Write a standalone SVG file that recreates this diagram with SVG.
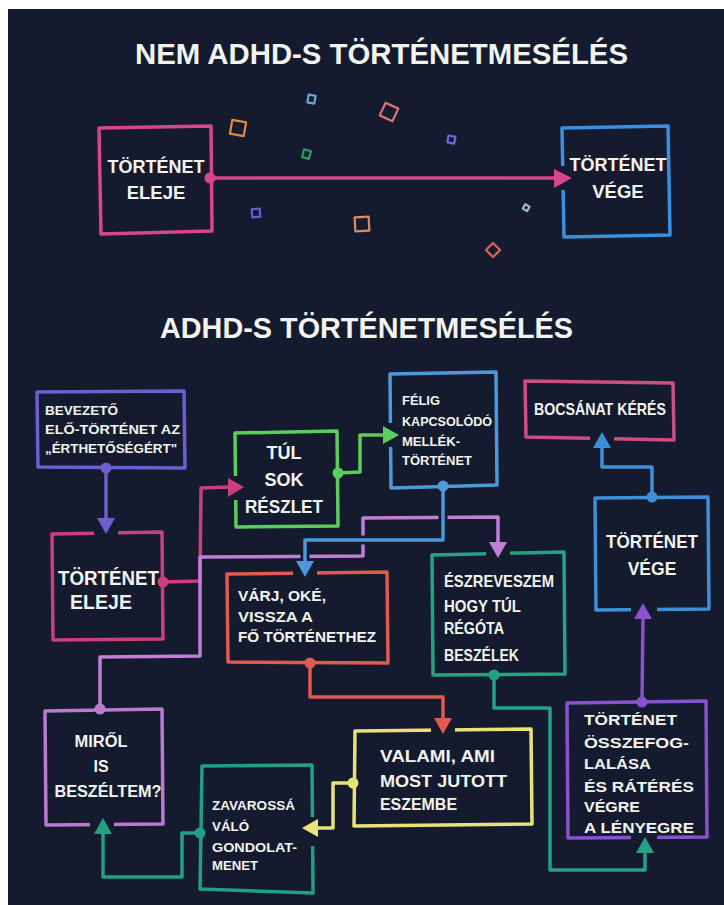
<svg xmlns="http://www.w3.org/2000/svg" width="724" height="905" viewBox="0 0 724 905">
<style>
.bx{fill:none;stroke-width:3.5;stroke-linejoin:round;stroke-linecap:round}
.ln{fill:none;stroke-width:3.5;stroke-linejoin:round;stroke-linecap:round}
.gap{fill:none;stroke:#141b2e;stroke-width:7}
.halo{fill:none;stroke:#141b2e;stroke-width:9}
.t{font-family:"Liberation Sans",Arial,sans-serif;font-weight:bold;fill:#f3f3ee}
.h{font-size:29px}
.c{text-anchor:middle}
.cf{fill:none;stroke-width:2.2;stroke-linejoin:round}
</style>
<rect x="0" y="0" width="724" height="905" fill="#ffffff"/>
<rect x="8" y="9" width="716" height="896" fill="#141b2e"/>

<text class="t h" x="135" y="64" textLength="493" lengthAdjust="spacingAndGlyphs">NEM ADHD-S TÖRTÉNETMESÉLÉS</text>
<text class="t h" x="160" y="338" textLength="413" lengthAdjust="spacingAndGlyphs">ADHD-S TÖRTÉNETMESÉLÉS</text>

<g id="confetti">
<rect class="cf" x="231" y="121" width="14" height="14" transform="rotate(10 238 128)" stroke="#e08a3c"/>
<rect class="cf" x="308" y="95" width="7" height="8" transform="rotate(10 311 99)" stroke="#6aa8cc"/>
<rect class="cf" x="382" y="105" width="14" height="14" transform="rotate(25 389 112)" stroke="#e07078"/>
<rect class="cf" x="448" y="136" width="7" height="7" transform="rotate(10 451 139)" stroke="#6a6ae0"/>
<rect class="cf" x="303" y="150" width="7" height="8" transform="rotate(15 306 154)" stroke="#2e9a5a"/>
<rect class="cf" x="252" y="209" width="8" height="8" transform="rotate(-5 256 213)" stroke="#6a5fd8"/>
<rect class="cf" x="355" y="217" width="14" height="14" transform="rotate(-3 362 224)" stroke="#e08a60"/>
<rect class="cf" x="524" y="205" width="5" height="5" transform="rotate(30 526 207)" stroke="#9ab8cc"/>
<rect class="cf" x="488" y="245" width="10" height="10" transform="rotate(45 493 250)" stroke="#e0605a"/>
</g>

<g id="top-start">
<path class="bx" stroke="#d6458e" d="M99,128 L211,126 L212,231 L101,234 Z"/>
<text class="t c" x="156" y="173" font-size="18.5" textLength="97" lengthAdjust="spacingAndGlyphs">TÖRTÉNET</text>
<text class="t c" x="156" y="199" font-size="18.5">ELEJE</text>
</g>
<g id="top-end">
<path class="bx" stroke="#3b8fe0" d="M562,128 L668,126 L670,235 L564,237 Z"/>
<text class="t c" x="618" y="171" font-size="18.5" textLength="97" lengthAdjust="spacingAndGlyphs">TÖRTÉNET</text>
<text class="t c" x="618" y="198" font-size="18.5">VÉGE</text>
</g>

<g id="n-bevezeto">
<path class="bx" stroke="#6c5fd0" d="M37,392 L184,391 L185,468 L38,467 Z"/>
<text class="t" x="45" y="415" font-size="13" textLength="73" lengthAdjust="spacingAndGlyphs">BEVEZETŐ</text>
<text class="t" x="45" y="434" font-size="13" textLength="135" lengthAdjust="spacingAndGlyphs">ELŐ-TÖRTÉNET AZ</text>
<text class="t" x="45" y="453" font-size="13" textLength="132" lengthAdjust="spacingAndGlyphs">„ÉRTHETŐSÉGÉRT"</text>
</g>
<g id="n-eleje">
<path class="bx" stroke="#c9407a" d="M52,534 L162,532 L163,639 L53,640 Z"/>
<text class="t" x="58" y="585" font-size="19.5" textLength="101" lengthAdjust="spacingAndGlyphs">TÖRTÉNET</text>
<text class="t c" x="101" y="609" font-size="19.5">ELEJE</text>
</g>
<g id="n-tulsok">
<path class="bx" stroke="#5ccc5c" d="M235,433 L337,431 L338,526 L236,527 Z"/>
<text class="t c" x="284" y="459" font-size="18">TÚL</text>
<text class="t c" x="284" y="486" font-size="18">SOK</text>
<text class="t c" x="284" y="513" font-size="18" textLength="78" lengthAdjust="spacingAndGlyphs">RÉSZLET</text>
</g>
<g id="n-felig">
<path class="bx" stroke="#4d98da" d="M390,374 L496,372 L497,485 L391,488 Z"/>
<text class="t" x="402" y="405" font-size="13" textLength="38" lengthAdjust="spacingAndGlyphs">FÉLIG</text>
<text class="t" x="402" y="426" font-size="13" textLength="90" lengthAdjust="spacingAndGlyphs">KAPCSOLÓDÓ</text>
<text class="t" x="402" y="446" font-size="13" textLength="58" lengthAdjust="spacingAndGlyphs">MELLÉK-</text>
<text class="t" x="402" y="465" font-size="13" textLength="70" lengthAdjust="spacingAndGlyphs">TÖRTÉNET</text>
</g>
<g id="n-bocsanat">
<path class="bx" stroke="#cc4f80" d="M525,381 L673,383 L674,440 L526,437 Z"/>
<text class="t" x="534" y="415" font-size="17" textLength="132" lengthAdjust="spacingAndGlyphs">BOCSÁNAT KÉRÉS</text>
</g>
<g id="n-vege">
<path class="bx" stroke="#3f8fd8" d="M595,498 L708,497 L709,609 L596,610 Z"/>
<text class="t c" x="652" y="548" font-size="17.5" textLength="92" lengthAdjust="spacingAndGlyphs">TÖRTÉNET</text>
<text class="t c" x="652" y="575" font-size="17.5">VÉGE</text>
</g>
<g id="n-varj">
<path class="bx" stroke="#e05a4f" d="M227,574 L387,572 L388,663 L228,662 Z"/>
<text class="t" x="238" y="601" font-size="14.5" textLength="88" lengthAdjust="spacingAndGlyphs">VÁRJ, OKÉ,</text>
<text class="t" x="238" y="622" font-size="14.5" textLength="75" lengthAdjust="spacingAndGlyphs">VISSZA A</text>
<text class="t" x="238" y="642" font-size="14.5" textLength="138" lengthAdjust="spacingAndGlyphs">FŐ TÖRTÉNETHEZ</text>
</g>
<g id="n-eszreveszem">
<path class="bx" stroke="#23a383" d="M432,555 L564,552 L565,674 L433,675 Z"/>
<text class="t" x="444" y="587" font-size="16.5" textLength="110" lengthAdjust="spacingAndGlyphs">ÉSZREVESZEM</text>
<text class="t" x="444" y="612" font-size="16.5" textLength="77" lengthAdjust="spacingAndGlyphs">HOGY TÚL</text>
<text class="t" x="444" y="634" font-size="16.5" textLength="60" lengthAdjust="spacingAndGlyphs">RÉGÓTA</text>
<text class="t" x="444" y="661" font-size="16.5" textLength="75" lengthAdjust="spacingAndGlyphs">BESZÉLEK</text>
</g>
<g id="n-mirol">
<path class="bx" stroke="#b97ad0" d="M45,711 L162,709 L163,824 L46,825 Z"/>
<text class="t c" x="101" y="747" font-size="16" textLength="53" lengthAdjust="spacingAndGlyphs">MIRŐL</text>
<text class="t c" x="101" y="772" font-size="16">IS</text>
<text class="t c" x="108" y="797" font-size="16" textLength="107" lengthAdjust="spacingAndGlyphs">BESZÉLTEM?</text>
</g>
<g id="n-zavarossa">
<path class="bx" stroke="#22a083" d="M202,766 L312,765 L313,893 L200,889 Z"/>
<text class="t" x="212" y="810" font-size="13.5" textLength="83" lengthAdjust="spacingAndGlyphs">ZAVAROSSÁ</text>
<text class="t" x="212" y="831" font-size="13.5" textLength="37" lengthAdjust="spacingAndGlyphs">VÁLÓ</text>
<text class="t" x="212" y="852" font-size="13.5" textLength="85" lengthAdjust="spacingAndGlyphs">GONDOLAT-</text>
<text class="t" x="212" y="870" font-size="13.5" textLength="46" lengthAdjust="spacingAndGlyphs">MENET</text>
</g>
<g id="n-valami">
<path class="bx" stroke="#e8e27a" d="M355,731 L531,729 L532,824 L354,826 Z"/>
<text class="t" x="380" y="762" font-size="16" textLength="115" lengthAdjust="spacingAndGlyphs">VALAMI, AMI</text>
<text class="t" x="380" y="787" font-size="16" textLength="127" lengthAdjust="spacingAndGlyphs">MOST JUTOTT</text>
<text class="t" x="380" y="810" font-size="16" textLength="77" lengthAdjust="spacingAndGlyphs">ESZEMBE</text>
</g>
<g id="n-osszefog">
<path class="bx" stroke="#8a52cc" d="M567,703 L706,701 L707,837 L568,838 Z"/>
<text class="t" x="584" y="725" font-size="15" textLength="93" lengthAdjust="spacingAndGlyphs">TÖRTÉNET</text>
<text class="t" x="584" y="748" font-size="15" textLength="105" lengthAdjust="spacingAndGlyphs">ÖSSZEFOG-</text>
<text class="t" x="584" y="769" font-size="15" textLength="67" lengthAdjust="spacingAndGlyphs">LALÁSA</text>
<text class="t" x="584" y="792" font-size="15" textLength="110" lengthAdjust="spacingAndGlyphs">ÉS RÁTÉRÉS</text>
<text class="t" x="584" y="812" font-size="15" textLength="56" lengthAdjust="spacingAndGlyphs">VÉGRE</text>
<text class="t" x="584" y="833" font-size="15" textLength="110" lengthAdjust="spacingAndGlyphs">A LÉNYEGRE</text>
</g>

<g id="connectors">
<path class="gap" d="M562,166 L562,190"/>
<path class="gap" d="M94,533 L118,533"/>
<path class="gap" d="M235,476 L235,500"/>
<path class="gap" d="M390,423 L390,447"/>
<path class="gap" d="M293,573 L317,573"/>
<path class="gap" d="M486,553 L510,553"/>
<path class="gap" d="M431,730 L455,730"/>
<path class="gap" d="M313,817 L313,846"/>
<path class="gap" d="M90,825 L114,825"/>
<path class="gap" d="M631,838 L657,838"/>
<path class="gap" d="M631,610 L657,610"/>
<path class="gap" d="M590,439 L614,439"/>

<path class="ln" stroke="#d6458e" d="M210,178 L556,178"/>
<polygon fill="#d6458e" points="554,169 572,178 554,188"/>
<circle cx="210" cy="178" r="5.5" fill="#d6458e"/>

<path class="ln" stroke="#6c5fd0" d="M106,468 L106,520"/>
<polygon fill="#6c5fd0" points="97,518 115,518 106,534"/>
<circle cx="106" cy="468" r="5.5" fill="#6c5fd0"/>

<path class="ln" stroke="#c9407a" d="M163,582 L200,581 L201,488 L230,487"/>
<polygon fill="#c9407a" points="228,478 244,487 228,497"/>
<circle cx="163" cy="582" r="5.5" fill="#c9407a"/>

<path class="ln" stroke="#5ccc5c" d="M338,473 L360,472 L360,435 L385,435"/>
<polygon fill="#5ccc5c" points="383,426 399,435 383,444"/>
<circle cx="338" cy="473" r="5.5" fill="#5ccc5c"/>

<path class="ln" stroke="#c27fd6" d="M100,708 L100,657 L200,656 L200,557 L363,556 L363,518 L498,517 L498,544"/>
<polygon fill="#c27fd6" points="489,542 507,542 498,558"/>
<circle cx="100" cy="709" r="5.5" fill="#b97ad0"/>

<path class="halo" d="M443,490 L443,540 L305,540 L305,562"/>
<path class="ln" stroke="#4d98da" d="M443,486 L443,540 L305,540 L305,563"/>
<polygon fill="#4d98da" points="296,561 314,561 305,577"/>
<circle cx="443" cy="486" r="5.5" fill="#4d98da"/>

<path class="ln" stroke="#e05a4f" d="M310,663 L310,697 L443,697 L443,720"/>
<polygon fill="#e05a4f" points="434,718 452,718 443,734"/>
<circle cx="310" cy="663" r="5.5" fill="#e05a4f"/>

<path class="ln" stroke="#23a383" d="M494,675 L494,708 L550,708 L550,870 L645,870 L645,851"/>
<polygon fill="#23a383" points="636,853 654,853 645,837"/>
<circle cx="494" cy="675" r="5.5" fill="#23a383"/>

<path class="ln" stroke="#8a52cc" d="M642,702 L643,617"/>
<polygon fill="#8a52cc" points="634,619 652,619 643,603"/>
<circle cx="642" cy="702" r="5.5" fill="#8a52cc"/>

<path class="ln" stroke="#3f8fd8" d="M652,497 L652,467 L602,467 L602,446"/>
<polygon fill="#3f8fd8" points="593,448 611,448 602,432"/>
<circle cx="652" cy="497" r="5.5" fill="#3f8fd8"/>

<path class="ln" stroke="#e8e27a" d="M353,783 L333,783 L333,828 L316,828"/>
<polygon fill="#e8e27a" points="318,819 318,837 302,828"/>
<circle cx="353" cy="783" r="5.5" fill="#e8e27a"/>

<path class="ln" stroke="#22a083" d="M200,833 L182,833 L182,877 L103,877 L103,832"/>
<polygon fill="#22a083" points="94,834 112,834 103,818"/>
<circle cx="200" cy="833" r="5.5" fill="#22a083"/>
</g>
</svg>
